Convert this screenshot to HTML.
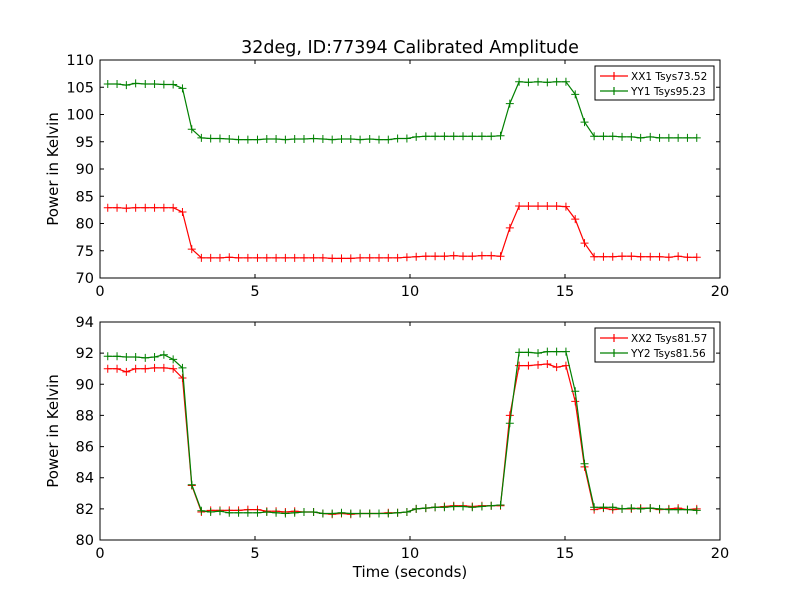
<!DOCTYPE html>
<html><head><meta charset="utf-8">
<style>
html,body{margin:0;padding:0;background:#fff;}
svg{display:block;font-family:"DejaVu Sans","Liberation Sans",sans-serif;}
</style></head>
<body>
<svg id="chart" width="800" height="600" xmlns="http://www.w3.org/2000/svg">
<rect width="800" height="600" fill="#fff"/>
<text x="410" y="53" text-anchor="middle" font-size="17.5">32deg, ID:77394 Calibrated Amplitude</text>
<text x="410" y="577" text-anchor="middle" font-size="15">Time (seconds)</text>
</svg>
<script>
const times = [0.25,0.55,0.85,1.15,1.46,1.76,2.06,2.36,2.66,2.96,3.27,3.57,3.87,4.17,4.47,4.77,5.08,5.38,5.68,5.98,6.28,6.58,6.89,7.19,7.49,7.79,8.09,8.39,8.70,9.00,9.30,9.60,9.90,10.20,10.51,10.81,11.11,11.41,11.71,12.01,12.32,12.62,12.92,13.22,13.52,13.82,14.13,14.43,14.73,15.03,15.33,15.63,15.94,16.24,16.54,16.84,17.14,17.44,17.75,18.05,18.35,18.65,18.95,19.25];
const xx1 = [82.9,82.9,82.8,82.9,82.9,82.9,82.9,82.9,82.1,75.3,73.7,73.7,73.7,73.8,73.7,73.7,73.7,73.7,73.7,73.7,73.7,73.7,73.7,73.7,73.6,73.6,73.6,73.7,73.7,73.7,73.7,73.7,73.8,73.9,74.0,74.0,74.0,74.1,74.0,74.0,74.1,74.1,74.0,79.2,83.2,83.2,83.2,83.2,83.2,83.1,80.8,76.4,73.9,73.9,73.9,74.0,74.0,73.9,73.9,73.9,73.8,74.0,73.8,73.8];
const yy1 = [105.6,105.6,105.4,105.7,105.6,105.6,105.5,105.5,104.8,97.3,95.7,95.6,95.6,95.5,95.4,95.4,95.4,95.5,95.5,95.4,95.5,95.5,95.6,95.5,95.4,95.5,95.5,95.4,95.5,95.4,95.4,95.6,95.6,95.9,96.0,96.0,96.0,96.0,96.0,96.0,96.0,96.0,96.1,102.0,106.0,105.9,106.0,105.9,106.0,106.0,103.7,98.6,96.0,96.0,96.0,95.9,95.9,95.7,95.9,95.7,95.7,95.7,95.7,95.7];
const xx2 = [91.0,91.0,90.8,91.0,91.0,91.05,91.05,91.0,90.4,83.5,81.8,81.9,81.9,81.9,81.9,81.95,81.95,81.85,81.85,81.8,81.85,81.8,81.8,81.7,81.65,81.7,81.65,81.7,81.7,81.7,81.75,81.75,81.8,82.0,82.05,82.1,82.15,82.2,82.2,82.15,82.2,82.2,82.2,88.0,91.2,91.2,91.25,91.3,91.1,91.2,88.9,84.7,81.95,82.05,81.95,82.0,82.0,82.05,82.05,81.95,82.0,82.05,81.95,82.0];
const yy2 = [91.8,91.8,91.75,91.75,91.7,91.75,91.9,91.6,91.05,83.55,81.88,81.8,81.85,81.75,81.75,81.75,81.75,81.8,81.75,81.7,81.75,81.8,81.8,81.7,81.7,81.75,81.7,81.7,81.7,81.7,81.7,81.75,81.8,82.0,82.05,82.1,82.1,82.15,82.15,82.1,82.15,82.2,82.25,87.5,92.05,92.05,92.0,92.1,92.1,92.1,89.55,84.9,82.1,82.1,82.1,82.0,82.05,82.0,82.05,82.0,81.95,81.95,81.95,81.9];
const xTicks = [0,5,10,15,20];
const yTicksTop = [70,75,80,85,90,95,100,105,110];
const yTicksBottom = [80,82,84,86,88,90,92,94];
const legendTop = ["XX1 Tsys73.52","YY1 Tsys95.23"];
const legendBottom = ["XX2 Tsys81.57","YY2 Tsys81.56"];

const NS = "http://www.w3.org/2000/svg";
const svg = document.getElementById('chart');
function mk(tag, attrs, parent){const e=document.createElementNS(NS,tag);for(const k in attrs)e.setAttribute(k,attrs[k]);(parent||svg).appendChild(e);return e;}

function panel(name, top, bottom, yMin, yMax, yTicks, series, legend){
  const L=100,R=720;
  const g = mk('g',{});
  
  
  const xs = t => L + (t-0)/(20-0)*(R-L);
  const ys = v => bottom - (v-yMin)/(yMax-yMin)*(bottom-top);
  const colors=['#ff0000','#008000'];
  series.forEach((vals,si)=>{
    const pts = vals.map((v,i)=>xs(times[i]).toFixed(1)+','+ys(v).toFixed(1)).join(' ');
    const pl = mk('polyline',{points:pts,fill:'none',stroke:colors[si],'stroke-width':1.2},g);
    
    
    vals.forEach((v,i)=>{
      const x=xs(times[i]), y=ys(v);
      const m = mk('path',{d:`M${x-4},${y}H${x+4}M${x},${y-4}V${y+4}`,stroke:colors[si],'stroke-width':1},g);
      
      
    });
  });
  mk('rect',{x:L,y:top,width:R-L,height:bottom-top,fill:'none',stroke:'#000','stroke-width':1},g);
  xTicks.forEach(t=>{
    const x=xs(t);
    mk('path',{d:`M${x},${bottom}v-4M${x},${top}v4`,stroke:'#000'},g);
    const tx = mk('text',{x:x,y:bottom+18,'text-anchor':'middle','font-size':14.5},g);
    tx.textContent=t;
    
    
  });
  yTicks.forEach(v=>{
    const y=ys(v);
    mk('path',{d:`M${L},${y}h4M${R},${y}h-4`,stroke:'#000'},g);
    const tx = mk('text',{x:L-6,y:y+5,'text-anchor':'end','font-size':14.5},g);
    tx.textContent=v;
    
    
  });
  const yl = mk('text',{x:0,y:0,'text-anchor':'middle','font-size':15,transform:`translate(${L-42},${(top+bottom)/2}) rotate(-90)`},g);
  yl.textContent='Power in Kelvin';
  
  
  const lg = mk('g',{},g);
  
  
  mk('rect',{x:595,y:top+6,width:119,height:34,fill:'#fff',stroke:'#000','stroke-width':1},lg);
  legend.forEach((lab,i)=>{
    const y=top+16+i*15;
    mk('path',{d:`M600,${y}h28M614,${y-4}v8`,stroke:colors[i],'stroke-width':1.2},lg);
    const t=mk('text',{x:631,y:y+4,'font-size':10.5},lg);
    t.textContent=lab;
    
    
  });
}
panel('top-panel',60,278,70,110,yTicksTop,[xx1,yy1],legendTop);
panel('bottom-panel',322,540,80,94,yTicksBottom,[xx2,yy2],legendBottom);
</script>
</body></html>
